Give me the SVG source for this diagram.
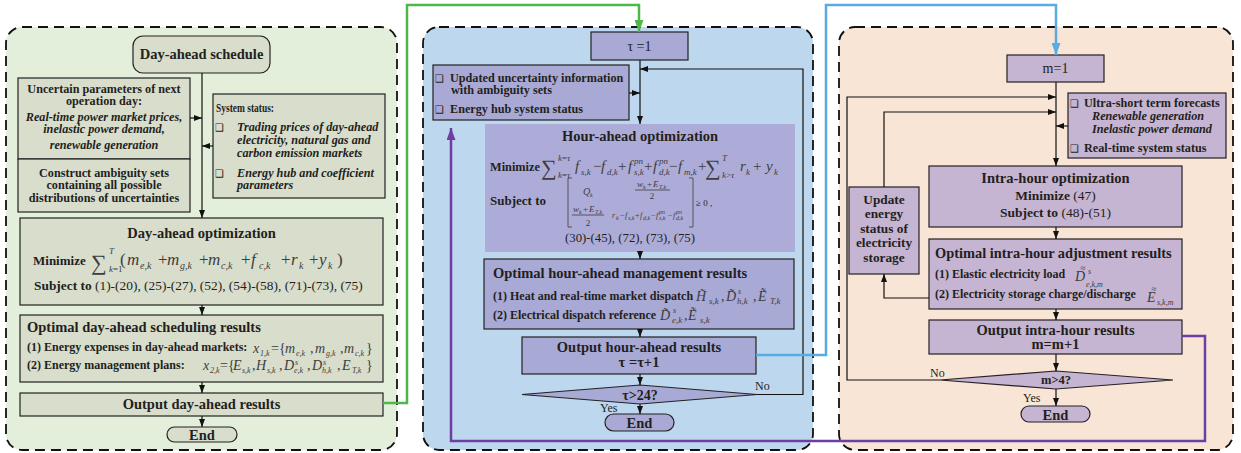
<svg xmlns="http://www.w3.org/2000/svg" width="1241" height="453" viewBox="0 0 1241 453">
<defs>
<style>
text{font-family:"Liberation Serif","Times New Roman",serif;fill:#231f20}
.b{font-weight:bold}
.bi{font-weight:bold;font-style:italic}
.h{font-size:14.5px;font-weight:bold}
.n{font-size:12.2px}
.s{font-size:12px;font-weight:bold}
.r{font-weight:normal;font-style:normal}
.m{font-style:italic;font-weight:normal;fill:#3d3d3d}
.sm{font-size:9px}
.s8{font-size:8px}
.xs{font-size:6px}
.c{text-anchor:middle}
.ck{font-family:"DejaVu Sans",sans-serif;font-size:10px;font-weight:normal}
.sig{font-family:"Liberation Serif","DejaVu Serif",serif;font-size:22px;fill:#3d3d3d}
.acc{font-size:9px;font-style:normal;fill:#3d3d3d;text-anchor:middle}
.panel{stroke:#111;stroke-width:1.8;stroke-dasharray:10 6}
.bl{fill:#d8ddcc;stroke:#222;stroke-width:1.2}
.bm{fill:#a9a9d5;stroke:#222;stroke-width:1.2}
.br{fill:#c5b4d2;stroke:#222;stroke-width:1.2}
.ln{fill:none;stroke:#111;stroke-width:1.2}
.thin{fill:none;stroke:#3d3d3d;stroke-width:0.8}
</style>
<marker id="ah" viewBox="0 0 8 6" refX="8" refY="3" markerWidth="8" markerHeight="6" markerUnits="userSpaceOnUse" orient="auto"><path d="M0,0L8,3L0,6z" fill="#111"/></marker>
<marker id="ahg" viewBox="0 0 12 9" refX="12" refY="4.5" markerWidth="12" markerHeight="9" markerUnits="userSpaceOnUse" orient="auto"><path d="M0,0L12,4.5L0,9z" fill="#4db848"/></marker>
<marker id="ahb" viewBox="0 0 12 9" refX="12" refY="4.5" markerWidth="12" markerHeight="9" markerUnits="userSpaceOnUse" orient="auto"><path d="M0,0L12,4.5L0,9z" fill="#5aace0"/></marker>
<marker id="ahp" viewBox="0 0 12 9" refX="12" refY="4.5" markerWidth="12" markerHeight="9" markerUnits="userSpaceOnUse" orient="auto"><path d="M0,0L12,4.5L0,9z" fill="#6e3fa3"/></marker>
</defs>

<!-- stage panels -->
<rect x="6" y="27" width="391" height="423" rx="16" fill="#e3efda" class="panel"/>
<rect x="423" y="27" width="390" height="423" rx="16" fill="#bdd7ee" class="panel"/>
<rect x="839" y="27" width="394" height="423" rx="16" fill="#f8e5d6" class="panel"/>

<!-- ===== Day-ahead stage ===== -->
<g id="da-start">
<rect x="133" y="36" width="137" height="37" rx="10" class="bl"/>
<text x="201.5" y="59" class="h c">Day-ahead schedule</text>
</g>
<g id="da-uncertain">
<rect x="18" y="78" width="172" height="81" class="bl"/>
<text class="n b c"><tspan x="104" y="93">Uncertain parameters of next</tspan><tspan x="104" y="105">operation day:</tspan></text>
<text class="n bi c"><tspan x="104" y="121">Real-time power market prices,</tspan><tspan x="104" y="133">inelastic power demand,</tspan><tspan x="104" y="149">renewable generation</tspan></text>
</g>
<g id="da-ambiguity">
<rect x="18" y="159" width="172" height="53" class="bl"/>
<text class="n b c"><tspan x="104" y="177">Construct ambiguity sets</tspan><tspan x="104" y="189">containing all possible</tspan><tspan x="104" y="202">distributions of uncertainties</tspan></text>
</g>
<g id="da-status">
<rect x="213" y="94" width="172" height="104" class="bl"/>
<text x="216" y="112" class="b" font-size="12.2" textLength="58" lengthAdjust="spacingAndGlyphs">System status:</text>
<text x="215" y="131" class="ck">❑</text>
<text class="n bi"><tspan x="237" y="131">Trading prices of day-ahead</tspan><tspan x="237" y="144">electricity, natural gas and</tspan><tspan x="237" y="157">carbon emission markets</tspan></text>
<text x="215" y="177" class="ck">❑</text>
<text class="n bi"><tspan x="237" y="177">Energy hub and coefficient</tspan><tspan x="237" y="189">parameters</tspan></text>
</g>
<g id="da-opt">
<rect x="20" y="218" width="363" height="87" class="bl"/>
<text x="201.5" y="238" class="h c">Day-ahead optimization</text>
<text x="33" y="265" class="b" font-size="13">Minimize</text>
<text x="91" y="270" class="sig">∑</text>
<text class="m sm"><tspan x="109" y="254">T</tspan><tspan x="109" y="272">k</tspan><tspan class="r">=1</tspan></text>
<text class="m" font-size="17" y="265"><tspan x="120" class="r">(</tspan><tspan x="127">m</tspan><tspan x="158" class="r">+</tspan><tspan x="167">m</tspan><tspan x="199" class="r">+</tspan><tspan x="208">m</tspan><tspan x="241" class="r">+</tspan><tspan x="251">f</tspan><tspan x="281" class="r">+</tspan><tspan x="291">r</tspan><tspan x="309" class="r">+</tspan><tspan x="319">y</tspan><tspan x="337" class="r">)</tspan></text>
<text class="m" font-size="10" y="269"><tspan x="140">e,k</tspan><tspan x="180">g,k</tspan><tspan x="221">c,k</tspan><tspan x="259">c,k</tspan><tspan x="299">k</tspan><tspan x="328">k</tspan></text>
<text x="34" y="290" class="b" font-size="13.4">Subject to<tspan class="r"> (1)-(20), (25)-(27), (52), (54)-(58), (71)-(73), (75)</tspan></text>
</g>
<g id="da-results">
<rect x="20" y="315" width="363" height="67" class="bl"/>
<text x="27" y="332" class="h">Optimal day-ahead scheduling results</text>
<text x="27" y="351" class="s">(1) Energy expenses in day-ahead markets:</text>
<text class="m" font-size="14" y="353"><tspan x="253">x</tspan><tspan x="271" class="r">=</tspan><tspan x="279" class="r">{</tspan><tspan x="285">m</tspan><tspan x="310" class="r">,</tspan><tspan x="315">m</tspan><tspan x="340" class="r">,</tspan><tspan x="344">m</tspan><tspan x="366" class="r">}</tspan></text>
<text class="m s8" y="356"><tspan x="260">1,k</tspan><tspan x="296">e,k</tspan><tspan x="326">g,k</tspan><tspan x="355">c,k</tspan></text>
<text x="27" y="369" class="s">(2) Energy management plans:</text>
<text class="m" font-size="14" y="370"><tspan x="203">x</tspan><tspan x="220" class="r">=</tspan><tspan x="228" class="r">{</tspan><tspan x="233">E</tspan><tspan x="252" class="r">,</tspan><tspan x="256">H</tspan><tspan x="279" class="r">,</tspan><tspan x="284">D</tspan><tspan x="307" class="r">,</tspan><tspan x="312">D</tspan><tspan x="337" class="r">,</tspan><tspan x="342">E</tspan><tspan x="366" class="r">}</tspan></text>
<text class="m s8" y="373"><tspan x="210">2,k</tspan><tspan x="242">s,k</tspan><tspan x="267">s,k</tspan><tspan x="294">e,k</tspan><tspan x="322">h,k</tspan><tspan x="352">T,k</tspan></text>
<text class="m" font-size="8" y="365"><tspan x="295">s</tspan><tspan x="323">s</tspan></text>
</g>
<g id="da-output">
<rect x="20" y="393" width="363" height="23" class="bl"/>
<text x="201.5" y="408.5" class="h c">Output day-ahead results</text>
</g>
<g id="da-end">
<rect x="167" y="427" width="70" height="15" rx="7.5" class="bl"/>
<text x="202" y="440" class="h c">End</text>
</g>

<!-- ===== Hour-ahead stage ===== -->
<g id="ha-start">
<rect x="591" y="32" width="97" height="28" class="bm"/>
<text x="639.5" y="51" class="c" font-size="14">τ =1</text>
</g>
<g id="ha-info">
<rect x="433" y="65" width="196" height="55" class="bm"/>
<text x="435" y="82" class="ck">❑</text>
<text class="n b"><tspan x="450" y="81.5">Updated uncertainty information</tspan><tspan x="451" y="94">with ambiguity sets</tspan><tspan x="450" y="113">Energy hub system status</tspan></text>
<text x="435" y="113" class="ck">❑</text>
</g>
<g id="ha-opt">
<rect x="485" y="124" width="310" height="128" fill="#adacd9"/>
<text x="640" y="141" class="h c">Hour-ahead optimization</text>
<text x="490" y="171" class="b" font-size="13" textLength="50" lengthAdjust="spacingAndGlyphs">Minimize</text>
<text x="541" y="175" class="sig">∑</text>
<text x="705" y="175" class="sig">∑</text>
<text class="m sm"><tspan x="558" y="161">k</tspan><tspan class="r">=</tspan><tspan>τ</tspan><tspan x="558" y="178">k</tspan><tspan class="r">=</tspan><tspan>τ</tspan><tspan x="722" y="161">T</tspan><tspan x="722" y="178">k</tspan><tspan class="r">&gt;</tspan><tspan>τ</tspan></text>
<text class="m" font-size="15" y="171"><tspan x="575">f</tspan><tspan x="593" class="r">−</tspan><tspan x="601">f</tspan><tspan x="618" class="r">+</tspan><tspan x="628">f</tspan><tspan x="644" class="r">+</tspan><tspan x="653">f</tspan><tspan x="669" class="r">−</tspan><tspan x="678">f</tspan><tspan x="698" class="r">+</tspan><tspan x="740">r</tspan><tspan x="753" class="r">+</tspan><tspan x="766">y</tspan></text>
<text class="m sm" y="175"><tspan x="581">s,k</tspan><tspan x="607">d,k</tspan><tspan x="634">s,k</tspan><tspan x="659">d,k</tspan><tspan x="684">m,k</tspan><tspan x="746">k</tspan><tspan x="774">k</tspan></text>
<text class="m sm" y="164"><tspan x="634">pn</tspan><tspan x="659">pn</tspan></text>
<text x="490" y="205" class="b" font-size="13">Subject to</text>
<path d="M572,178H568V227H572M689,178H693V227H689" class="thin"/>
<text class="m" font-size="10" y="195"><tspan x="583">Q</tspan></text>
<text class="m xs" y="197"><tspan x="590">k</tspan></text>
<text class="m" font-size="9" y="187"><tspan x="637">w</tspan><tspan x="647" class="r">+</tspan><tspan x="653">E</tspan></text>
<text class="m xs" y="189"><tspan x="643">k</tspan><tspan x="659">T,k</tspan></text>
<path d="M635,190H670M572,215H604" class="thin"/>
<text class="m c" font-size="9" y="199"><tspan x="652" class="r">2</tspan></text>
<text class="m" font-size="9" y="212"><tspan x="573">w</tspan><tspan x="583" class="r">+</tspan><tspan x="589">E</tspan></text>
<text class="m xs" y="214"><tspan x="579">k</tspan><tspan x="595">T,k</tspan></text>
<text class="m c" font-size="9" y="226"><tspan x="588" class="r">2</tspan></text>
<text class="m" font-size="8" y="218"><tspan x="612">r</tspan><tspan x="620" class="r">−</tspan><tspan x="625">f</tspan><tspan x="635" class="r">+</tspan><tspan x="640">f</tspan><tspan x="651" class="r">−</tspan><tspan x="656">f</tspan><tspan x="668" class="r">−</tspan><tspan x="673">f</tspan></text>
<text class="m xs" y="220"><tspan x="616">k</tspan><tspan x="628">s,k</tspan><tspan x="643">d,k</tspan><tspan x="659">s,k</tspan><tspan x="676">d,k</tspan></text>
<text class="m xs" y="214"><tspan x="659">pn</tspan><tspan x="676">pn</tspan></text>
<text x="696" y="206" font-size="9">≥ 0 ,</text>
<text x="630" y="242" class="c" font-size="12.8">(30)-(45), (72), (73), (75)</text>
</g>
<g id="ha-results">
<rect x="484" y="259" width="310" height="70" class="bm"/>
<text x="493" y="277.5" class="h">Optimal hour-ahead management results</text>
<text x="493" y="300" class="s">(1) Heat and real-time market dispatch</text>
<text class="m" font-size="14" y="301"><tspan x="696">H&#771;</tspan><tspan x="721" class="r">,</tspan><tspan x="726">D&#771;</tspan><tspan x="753" class="r">,</tspan><tspan x="758">E&#771;</tspan></text>
<text class="m sm" y="304"><tspan x="709">s,k</tspan><tspan x="737">h,k</tspan><tspan x="770">T,k</tspan></text>
<text class="m" font-size="8" y="294"><tspan x="738">s</tspan></text>
<text x="493" y="319" class="s">(2) Electrical dispatch reference</text>
<text class="m" font-size="14" y="320"><tspan x="660">D&#771;</tspan><tspan x="684" class="r">,</tspan><tspan x="688">E&#771;</tspan></text>
<text class="m sm" y="323"><tspan x="672">e,k</tspan><tspan x="700">s,k</tspan></text>
<text class="m" font-size="8" y="313"><tspan x="673">s</tspan></text>
</g>
<g id="ha-output">
<rect x="522" y="337" width="234" height="37" class="bm"/>
<text x="639" y="352" class="h c">Output hour-ahead results</text>
<text x="639" y="367" class="h c">τ =τ+1</text>
</g>
<g id="ha-check">
<polygon points="522,394.5 640,385 757,394.5 640,404" class="bm"/>
<text x="640" y="399.5" class="b c" font-size="14">τ&gt;24?</text>
</g>
<g id="ha-end">
<rect x="605" y="414" width="69" height="17" rx="8.5" class="bm"/>
<text x="639.5" y="428" class="h c">End</text>
</g>

<!-- ===== Intra-hour stage ===== -->
<g id="ih-start">
<rect x="1007" y="55" width="97" height="27" class="br"/>
<text x="1055.5" y="73" class="c" font-size="14">m=1</text>
</g>
<g id="ih-forecast">
<rect x="1068" y="93" width="158" height="65" class="br"/>
<text x="1070" y="106.5" class="ck">❑</text>
<text x="1084" y="106.5" class="n b">Ultra-short term forecasts</text>
<text class="n bi"><tspan x="1092" y="120">Renewable generation</tspan><tspan x="1092" y="132.5">Inelastic power demand</tspan></text>
<text x="1070" y="151.5" class="ck">❑</text>
<text x="1084" y="151.5" class="n b">Real-time system status</text>
</g>
<g id="ih-opt">
<rect x="929" y="166" width="253" height="61" class="br"/>
<text x="1055.5" y="182.5" class="h c">Intra-hour optimization</text>
<text x="1055.5" y="200" class="b c" font-size="13.5">Minimize <tspan class="r">(47)</tspan></text>
<text x="1055.5" y="217" class="b c" font-size="13.5">Subject to <tspan class="r">(48)-(51)</tspan></text>
</g>
<g id="ih-storage">
<rect x="849" y="187" width="70" height="87" class="br"/>
<text class="b c" font-size="13.3"><tspan x="884" y="203.5">Update</tspan><tspan x="884" y="218">energy</tspan><tspan x="884" y="232.5">status of</tspan><tspan x="884" y="247">electricity</tspan><tspan x="884" y="261.5">storage</tspan></text>
</g>
<g id="ih-results">
<rect x="929" y="239" width="253" height="70" class="br"/>
<text x="935" y="258" class="b" font-size="14.4">Optimal intra-hour adjustment results</text>
<text x="935" y="278" class="s">(1) Elastic electricity load</text>
<!-- letters with a double tilde accent -->
<text class="m" font-size="14"><tspan x="1075" y="281">D</tspan><tspan x="1083" y="271" class="acc">≈</tspan></text>
<text class="m" font-size="8" y="274"><tspan x="1088">s</tspan></text>
<text class="m" font-size="8" y="287"><tspan x="1086">e,k,m</tspan></text>
<text x="935" y="298" class="s">(2) Electricity storage charge/discharge</text>
<text class="m" font-size="14"><tspan x="1147" y="302">E</tspan><tspan x="1154" y="292" class="acc">≈</tspan></text>
<text class="m" font-size="8" y="305"><tspan x="1157">s,k,m</tspan></text>
</g>
<g id="ih-output">
<rect x="929" y="320" width="253" height="34" class="br"/>
<text x="1055.5" y="335" class="h c">Output intra-hour results</text>
<text x="1055.5" y="349" class="h c">m=m+1</text>
</g>
<g id="ih-check">
<polygon points="940,380 1056,371 1173,380 1056,389" class="br"/>
<text x="1056" y="384" class="b c" font-size="12.5">m&gt;4?</text>
</g>
<g id="ih-end">
<rect x="1021" y="406" width="69" height="16" rx="8" class="br"/>
<text x="1055.5" y="419.5" class="h c">End</text>
</g>

<!-- loop labels -->
<g id="labels" font-size="12">
<text x="755" y="390">No</text>
<text x="600" y="411.5">Yes</text>
<text x="930" y="376.5">No</text>
<text x="1023" y="401.5">Yes</text>
</g>

<!-- connectors -->
<g id="connectors">
<path d="M202,73V218" class="ln" marker-end="url(#ah)"/>
<path d="M190,118H202" class="ln" marker-end="url(#ah)"/>
<path d="M213,146H202" class="ln" marker-end="url(#ah)"/>
<path d="M202,305V315" class="ln" marker-end="url(#ah)"/>
<path d="M202,382V393" class="ln" marker-end="url(#ah)"/>
<path d="M202,416V427" class="ln" marker-end="url(#ah)"/>

<path d="M640,60V124" class="ln" marker-end="url(#ah)"/>
<path d="M629,93H640" class="ln" marker-end="url(#ah)"/>
<path d="M757,394.5H803V69H640" class="ln" marker-end="url(#ah)"/>
<path d="M640,252V259" class="ln" marker-end="url(#ah)"/>
<path d="M640,329V337" class="ln" marker-end="url(#ah)"/>
<path d="M640,374V385" class="ln" marker-end="url(#ah)"/>
<path d="M640,404V414" class="ln" marker-end="url(#ah)"/>

<path d="M1056,82V166" class="ln" marker-end="url(#ah)"/>
<path d="M1068,126H1056" class="ln" marker-end="url(#ah)"/>
<path d="M940,380H847V97H1056" class="ln" marker-end="url(#ah)"/>
<path d="M884,187V112H1056" class="ln" marker-end="url(#ah)"/>
<path d="M929,298H884V274" class="ln" marker-end="url(#ah)"/>
<path d="M1056,227V239" class="ln" marker-end="url(#ah)"/>
<path d="M1056,309V320" class="ln" marker-end="url(#ah)"/>
<path d="M1056,354V371" class="ln" marker-end="url(#ah)"/>
<path d="M1056,389V406" class="ln" marker-end="url(#ah)"/>

<path d="M383,403H407V5H639V32" fill="none" stroke="#4db848" stroke-width="2.5" marker-end="url(#ahg)"/>
<path d="M756,355H826V5H1056V55" fill="none" stroke="#5aace0" stroke-width="2.5" marker-end="url(#ahb)"/>
<path d="M1182,336H1205V441H451V128" fill="none" stroke="#6e3fa3" stroke-width="2.5" marker-end="url(#ahp)"/>
</g>
</svg>
